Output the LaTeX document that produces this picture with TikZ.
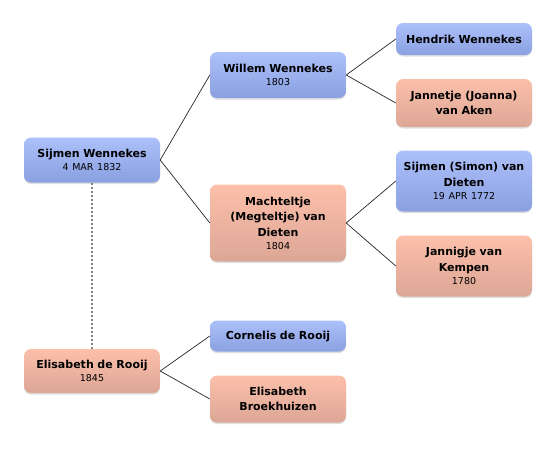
\documentclass[tikz,border=0pt]{standalone}
\usepackage{fontspec}
\setmainfont{DejaVu Sans}
\usetikzlibrary{shadows}
\definecolor{bluetop}{RGB}{172,192,250}
\definecolor{bluebot}{RGB}{138,160,224}
\definecolor{pinktop}{RGB}{252,192,170}
\definecolor{pinkbot}{RGB}{220,166,150}
\definecolor{dotgray}{RGB}{130,130,130}
\tikzset{
  person/.style={rounded corners=7pt, minimum width=136pt, text width=132pt,
    align=center, inner sep=2pt, draw=none,
    font=\fontsize{11}{15.5}\bfseries\selectfont,
    drop shadow={opacity=0.25, shadow xshift=0pt, shadow yshift=-1.5pt}},
  male/.style={person, top color=bluetop, bottom color=bluebot},
  female/.style={person, top color=pinktop, bottom color=pinkbot},
  link/.style={draw=black!85, line width=0.7pt},
  spouse/.style={draw=dotgray, line width=1.4pt, dash pattern=on 2pt off 2pt},
}
\newcommand{\dt}[1]{\\[-2.3pt]{\mdseries\fontsize{9.5}{13}\selectfont #1}}
\begin{document}
\begin{tikzpicture}[x=1pt,y=-1pt]
\useasboundingbox (0,0) rectangle (556,448);
\node[male, minimum height=45pt] (sw) at (92,160) {Sijmen Wennekes\dt{4 MAR 1832}};
\node[male, minimum height=46pt] (ww) at (278,75) {Willem Wennekes\dt{1803}};
\node[male, minimum height=32pt] (hw) at (464,39) {Hendrik Wennekes};
\node[female, minimum height=48pt] (ja) at (464,103) {Jannetje (Joanna)\\van Aken};
\node[female, minimum height=77pt] (md) at (278,223) {Machteltje\\(Megteltje) van\\Dieten\dt{1804}};
\node[male, minimum height=61pt] (sd) at (464,181) {Sijmen (Simon) van\\Dieten\dt{19 APR 1772}};
\node[female, minimum height=61pt] (jk) at (464,266) {Jannigje van\\Kempen\dt{1780}};
\node[female, minimum height=44pt] (er) at (92,371) {Elisabeth de Rooij\dt{1845}};
\node[male, minimum height=31pt] (cr) at (278,336) {Cornelis de Rooij};
\node[female, minimum height=47pt] (eb) at (278,399) {Elisabeth\\Broekhuizen};
\draw[link] (sw.east) -- (ww.west);
\draw[link] (sw.east) -- (md.west);
\draw[link] (ww.east) -- (hw.west);
\draw[link] (ww.east) -- (ja.west);
\draw[link] (md.east) -- (sd.west);
\draw[link] (md.east) -- (jk.west);
\draw[link] (er.east) -- (cr.west);
\draw[link] (er.east) -- (eb.west);
\draw[spouse] (sw.south) -- (er.north);
\end{tikzpicture}
\end{document}
